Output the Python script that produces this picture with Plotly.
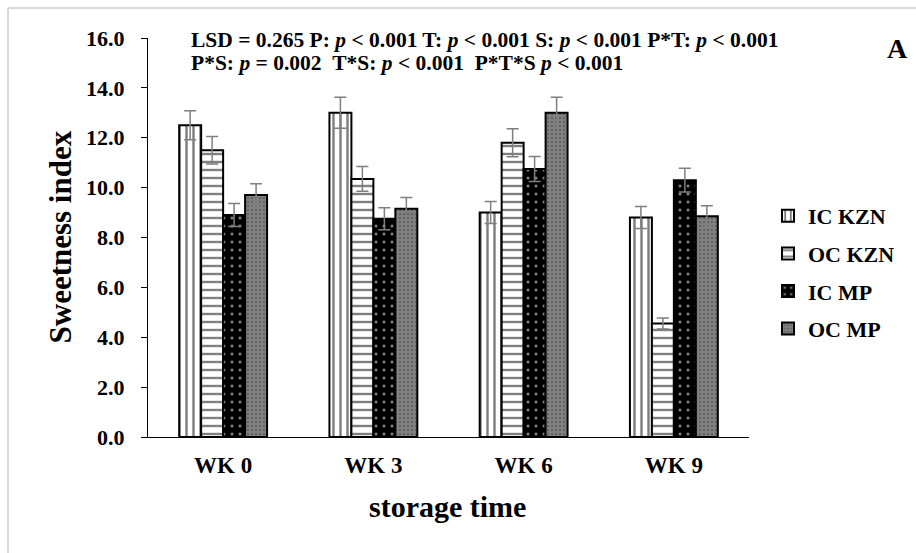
import plotly.graph_objects as go

categories = ["WK 0", "WK 3", "WK 6", "WK 9"]
series_names = ["IC KZN", "OC KZN", "IC MP", "OC MP"]
ic_kzn = [12.5, 13.0, 9.0, 8.8]
oc_kzn = [11.5, 10.35, 11.8, 4.55]
ic_mp = [8.9, 8.75, 10.75, 10.3]
oc_mp = [9.7, 9.15, 13.0, 8.85]
ic_kzn_err = [0.58, 0.62, 0.44, 0.44]
oc_kzn_err = [0.55, 0.5, 0.56, 0.22]
ic_mp_err = [0.46, 0.44, 0.5, 0.48]
oc_mp_err = [0.46, 0.45, 0.62, 0.42]
y_ticks = [0, 2, 4, 6, 8, 10, 12, 14, 16]

values = [ic_kzn, oc_kzn, ic_mp, oc_mp]
errors = [ic_kzn_err, oc_kzn_err, ic_mp_err, oc_mp_err]
patterns = [
    dict(shape="|", bgcolor="white", fgcolor="black", size=7, solidity=0.35),
    dict(shape="-", bgcolor="white", fgcolor="black", size=8, solidity=0.3),
    dict(shape=".", bgcolor="black", fgcolor="white", size=8, solidity=0.12),
    dict(shape=".", bgcolor="black", fgcolor="white", size=4, solidity=0.85),
]

FONT = "Liberation Serif"

fig = go.Figure()
for name, vals, errs, pat in zip(series_names, values, errors, patterns):
    fig.add_trace(go.Bar(
        x=categories, y=vals, name=f"<b>{name}</b>", legendgroup=name,
        marker=dict(color="white", line=dict(color="black", width=2), pattern=pat),
        error_y=dict(type="data", array=errs, visible=True, color="#7f7f7f",
                     thickness=1.5, width=6),
    ))

# light frame around the image
L, T = (8 - 148) / 601, (437 - 8) / 399
shape_line = dict(color="#d9d9d9", width=2)
fig.add_shape(type="line", xref="paper", yref="paper", x0=L, x1=L, y0=-0.5, y1=T, line=shape_line)
fig.add_shape(type="line", xref="paper", yref="paper", x0=L, x1=1.5, y0=T, y1=T, line=shape_line)

fig.add_annotation(
    xref="paper", yref="paper", x=(189 - 148) / 601, y=(437 - 40) / 399,
    xanchor="left", yanchor="middle", showarrow=False, align="left",
    text="<b>LSD = 0.265 P: <i>p</i> &lt; 0.001 T: <i>p</i> &lt; 0.001 S: <i>p</i> &lt; 0.001 P*T: <i>p</i> &lt; 0.001</b>",
    font=dict(family=FONT, size=21.5, color="black"),
)
fig.add_annotation(
    xref="paper", yref="paper", x=(189 - 148) / 601, y=(437 - 63) / 399,
    xanchor="left", yanchor="middle", showarrow=False, align="left",
    text="<b>P*S: <i>p</i> = 0.002 &nbsp;T*S: <i>p</i> &lt; 0.001 &nbsp;P*T*S <i>p</i> &lt; 0.001</b>",
    font=dict(family=FONT, size=21.5, color="black"),
)
fig.add_annotation(
    xref="paper", yref="paper", x=(897 - 148) / 601, y=(437 - 48) / 399,
    xanchor="center", yanchor="middle", showarrow=False,
    text="<b>A</b>", font=dict(family=FONT, size=28, color="black"),
)
fig.add_annotation(
    xref="paper", yref="paper", x=(60 - 148) / 601, y=0.5, textangle=-90,
    xanchor="center", yanchor="middle", showarrow=False,
    text="<b>Sweetness index</b>", font=dict(family=FONT, size=31, color="black"),
)
fig.add_annotation(
    xref="paper", yref="paper", x=(447 - 148) / 601, y=(437 - 506) / 399,
    xanchor="center", yanchor="middle", showarrow=False,
    text="<b>storage time</b>", font=dict(family=FONT, size=30, color="black"),
)

fig.update_layout(
    width=916, height=553,
    margin=dict(l=148, r=167, t=38, b=116),
    paper_bgcolor="white", plot_bgcolor="white",
    barmode="group", bargap=0.415, bargroupgap=0,
    font=dict(family=FONT, color="black"),
    showlegend=True,
    legend=dict(x=(768 - 148) / 601, y=(437 - 195) / 399, xanchor="left", yanchor="top",
                font=dict(family=FONT, size=22, color="black"),
                tracegroupgap=6, itemwidth=30, bgcolor="rgba(0,0,0,0)"),
)
fig.update_xaxes(
    showline=True, linecolor="black", linewidth=1, ticks="", showgrid=False,
    tickfont=dict(family=FONT, size=23, color="black"),
    tickprefix="<b>", ticksuffix="</b>", ticklabelstandoff=7,
)
fig.update_yaxes(
    range=[0, 16], tickvals=y_ticks, ticktext=[f"<b>{v:.1f}</b>" for v in y_ticks],
    showline=True, linecolor="black", linewidth=1, ticks="outside", ticklen=6,
    tickcolor="black", showgrid=False, zeroline=False,
    tickfont=dict(family=FONT, size=22, color="black"), ticklabelstandoff=12,
)

fig.write_html("out.html")
